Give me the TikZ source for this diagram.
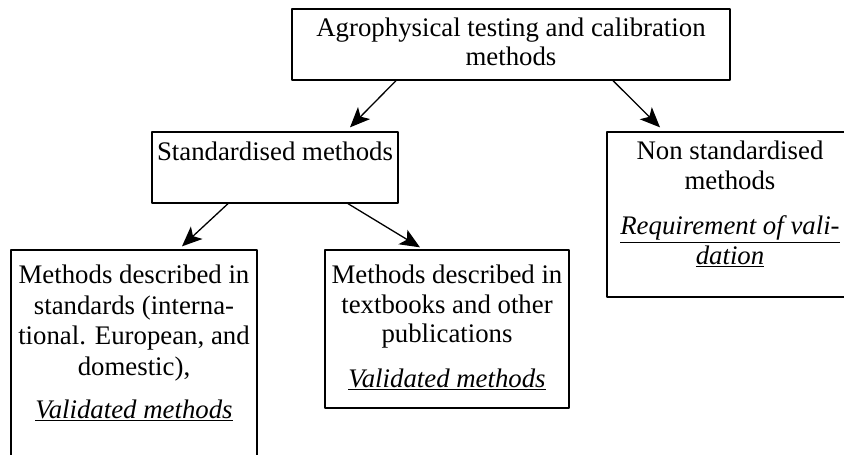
\documentclass[tikz,border=0pt]{standalone}
\usepackage{fontspec}
\setmainfont{Liberation Serif}
\usetikzlibrary{arrows.meta}
\begin{document}
\begin{tikzpicture}[x=1pt, y=-1pt, line width=1.3pt, line join=round,
	font=\fontsize{26.8}{30.7}\selectfont,
	box/.style={draw, rectangle, inner sep=0pt},
	txt/.style={align=center, inner sep=0pt, anchor=north},
	arr/.style={-{Stealth[length=20pt,width=17pt,inset=5pt]}}]
	\useasboundingbox (0,0) rectangle (844,455);
	% boxes
	\node[box, minimum width=438pt, minimum height=71pt] (top) at (511,44.5) {};
	\node[box, minimum width=246pt, minimum height=71pt] (std) at (275,167.5) {};
	\node[box, minimum width=246pt, minimum height=165pt] (non) at (730,214.5) {};
	\node[box, minimum width=246pt, minimum height=225pt] (left) at (134,362.5) {};
	\node[box, minimum width=244pt, minimum height=158pt] (mid) at (447,329) {};
	% texts
	\node[txt] (toptxt) at ([yshift=-9pt]top.north) {Agrophysical testing and calibration\\[-2pt]methods};
	\node[txt] (stdtxt) at ([yshift=-10pt]std.north) {Standardised methods};
	\node[txt] (nontxt) at ([yshift=-9pt]non.north) {Non standardised\\[-1pt]methods\\[15pt]\underline{\textit{Requirement of vali-}}\\[-1pt]\underline{\textit{dation}}};
	\node[txt] (lefttxt) at ([yshift=-15pt]left.north) {Methods described in\\standards (interna-\\tional. European, and\\domestic),\\[12pt]\underline{\textit{Validated methods}}};
	\node[txt] (midtxt) at ([yshift=-15pt]mid.north) {Methods described in\\[-1pt]textbooks and other\\[-1pt]publications\\[14pt]\underline{\textit{Validated methods}}};
	% arrows
	\draw[arr] ([xshift=-115pt]top.south) -- ([xshift=75pt,yshift=4pt]std.north);
	\draw[arr] ([xshift=102pt]top.south) -- ([xshift=-70pt,yshift=4pt]non.north);
	\draw[arr] ([xshift=-47pt]std.south) -- ([xshift=48pt,yshift=3pt]left.north);
	\draw[arr] ([xshift=73pt]std.south) -- ([xshift=-27pt,yshift=2pt]mid.north);
\end{tikzpicture}
\end{document}
